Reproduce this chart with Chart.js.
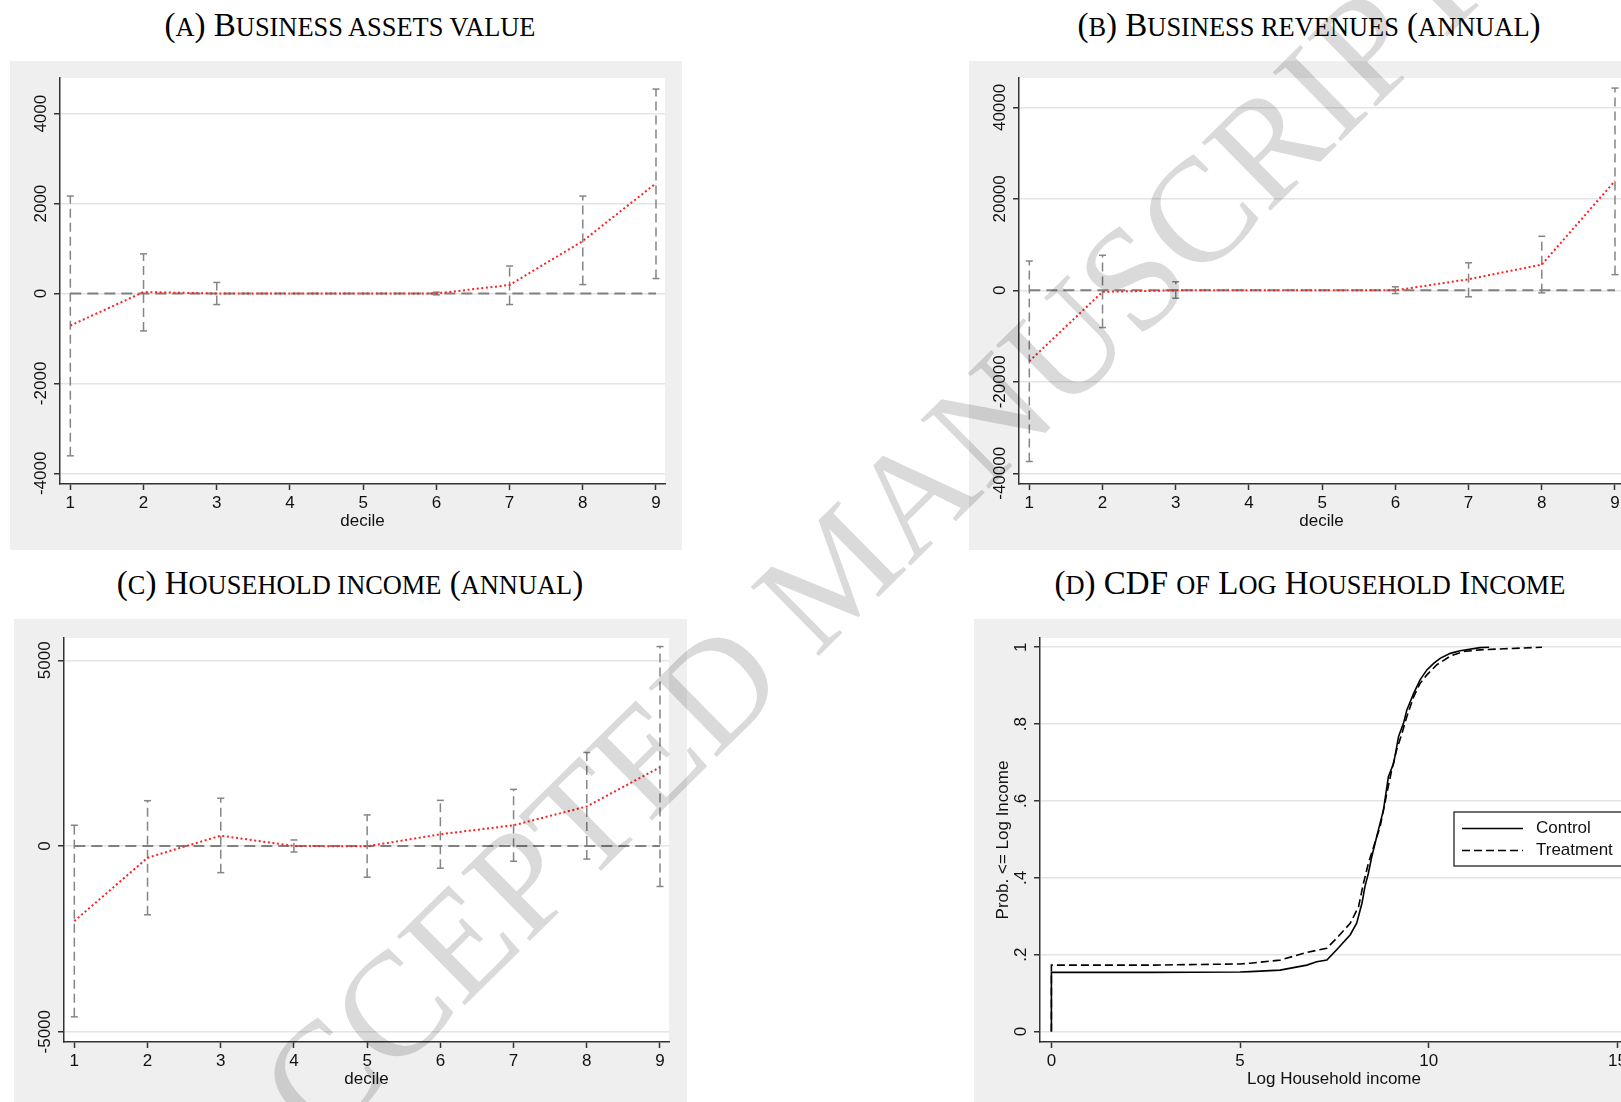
<!DOCTYPE html>
<html>
<head>
<meta charset="utf-8">
<script src="https://cdn.jsdelivr.net/npm/chart.js@4.4.0/dist/chart.umd.min.js"></script>
<style>
  html, body { margin: 0; padding: 0; background: #fff; width: 1621px; height: 1102px; overflow: hidden; }
  body { position: relative; }
  canvas.panel { position: absolute; background: #efefef; }
  .title { position: absolute; transform: translateX(-50%); font-family: "Liberation Serif", serif; font-size: 33px;
           line-height: 1; white-space: nowrap; color: #000; }
  .sc { font-size: 0.8em; }
  #wm { position: absolute; left: 0; top: 0; pointer-events: none; mix-blend-mode: multiply; }
</style>
</head>
<body>
<div class="title" style="left:350px; top:9px">(<span class="sc">A</span>) B<span class="sc">USINESS ASSETS VALUE</span></div>
<div class="title" style="left:1309px; top:9px">(<span class="sc">B</span>) B<span class="sc">USINESS REVENUES</span> (<span class="sc">ANNUAL</span>)</div>
<div class="title" style="left:350px; top:567px">(<span class="sc">C</span>) H<span class="sc">OUSEHOLD INCOME</span> (<span class="sc">ANNUAL</span>)</div>
<div class="title" style="left:1310px; top:567px">(<span class="sc">D</span>) CDF <span class="sc">OF</span> L<span class="sc">OG</span> H<span class="sc">OUSEHOLD</span> I<span class="sc">NCOME</span></div>

<canvas id="chartA" class="panel" width="672" height="489" style="left:10px; top:61px"></canvas>
<canvas id="chartB" class="panel" width="672" height="489" style="left:969px; top:61px"></canvas>
<canvas id="chartC" class="panel" width="673" height="500" style="left:14px; top:619px"></canvas>
<canvas id="chartD" class="panel" width="672" height="500" style="left:974px; top:619px"></canvas>

<svg id="wm" width="1621" height="1102">
  <text x="245" y="1222" transform="rotate(-44.6 245 1222)" font-family="Liberation Serif" font-size="148" fill="#dadada">ACCEPTED MANUSCRIPT</text>
</svg>

<script>
// deciles on the x axis of panels A-C
const deciles = [1, 2, 3, 4, 5, 6, 7, 8, 9];

// (A) business assets value: estimate and 95% CI
const assetsEst = [-714, 32, 0, 0, 0, 0, 190, 1167, 2452];
const assetsLo  = [-3611, -833, -246, null, null, -30, -246, 198, 333];
const assetsHi  = [2167, 881, 246, null, null, 30, 611, 2167, 4548];
const assetsTicks = [-4000, -2000, 0, 2000, 4000];

// (B) business revenues
const revenueEst = [-15500, -313, 0, 0, 0, 0, 2430, 5640, 23950];
const revenueLo  = [-37420, -8140, -1720, null, null, -700, -1410, -550, 3440];
const revenueHi  = [6420, 7670, 1880, null, null, 780, 6030, 11820, 44230];
const revenueTicks = [-40000, -20000, 0, 20000, 40000];

// (C) household income
const incomeEst = [-2020, -317, 279, 0, -10, 315, 558, 1065, 2121];
const incomeLo  = [-4600, -1853, -717, -162, -840, -598, -411, -352, -1090];
const incomeHi  = [559, 1220, 1285, 162, 836, 1229, 1524, 2517, 5370];
const incomeTicks = [-5000, 0, 5000];

// (D) CDF of log household income
const controlX = [0, 0, 2.6, 5.0, 5.27, 6.06, 6.77, 7.03, 7.30, 7.56, 7.92, 8.09, 8.23, 8.31, 8.40, 8.49, 8.62,
                  8.80, 8.93, 9.07, 9.20, 9.33, 9.42, 9.60, 9.77, 9.95, 10.13, 10.30, 10.57, 10.83, 11.36, 11.6];
const controlY = [0, 0.154, 0.154, 0.155, 0.156, 0.160, 0.173, 0.182, 0.186, 0.213, 0.252, 0.282, 0.334, 0.378, 0.412, 0.455, 0.507,
                  0.577, 0.663, 0.698, 0.768, 0.802, 0.837, 0.880, 0.915, 0.941, 0.958, 0.971, 0.984, 0.991, 0.999, 1.0];
const treatX = [0, 0, 2.6, 5.0, 5.27, 6.06, 6.77, 7.30, 7.56, 7.92, 8.14, 8.27, 8.40, 8.54, 8.71, 8.89, 9.02,
                9.15, 9.29, 9.42, 9.60, 9.77, 9.95, 10.21, 10.57, 10.92, 11.36, 12.0, 13.0];
const treatY = [0, 0.173, 0.173, 0.176, 0.178, 0.186, 0.206, 0.217, 0.243, 0.282, 0.325, 0.386, 0.438, 0.481, 0.533, 0.620, 0.681,
                0.733, 0.776, 0.820, 0.871, 0.906, 0.928, 0.954, 0.977, 0.989, 0.993, 0.996, 1.0];
const cdfXTicks = [0, 5, 10, 15];
const cdfYTicks = [0, 0.2, 0.4, 0.6, 0.8, 1];
const cdfYLabels = ['0', '.2', '.4', '.6', '.8', '1'];

Chart.defaults.font.family = '"Liberation Sans", Arial, sans-serif';
Chart.defaults.font.size = 17;
Chart.defaults.color = '#111';

const AXIS = '#333';

// white plot region + vertical (rotated) y tick labels, Stata style
const stataFrame = {
  id: 'stataFrame',
  beforeDraw(chart) {
    const { ctx, chartArea: a } = chart;
    ctx.save();
    ctx.fillStyle = '#fff';
    ctx.fillRect(a.left, a.top, a.right - a.left, a.bottom - a.top);
    ctx.restore();
  },
  afterDraw(chart) {
    const { ctx, chartArea: a } = chart;
    const y = chart.scales.y;
    ctx.save();
    ctx.font = '17px "Liberation Sans", Arial, sans-serif';
    ctx.fillStyle = '#111';
    ctx.textAlign = 'center';
    ctx.textBaseline = 'middle';
    y.ticks.forEach(t => {
      ctx.save();
      ctx.translate(a.left - 19, y.getPixelForValue(t.value));
      ctx.rotate(-Math.PI / 2);
      ctx.fillText(t.label, 0, 0);
      ctx.restore();
    });
    ctx.restore();
  }
};

function xAxis(min, max, ticks, title) {
  return {
    type: 'linear', min: min, max: max,
    afterBuildTicks: s => { s.ticks = ticks.map(v => ({ value: v })); },
    afterFit: s => { s.height = 48; },
    grid: { drawOnChartArea: false, tickLength: 6, tickColor: AXIS, tickWidth: 1.5 },
    border: { color: AXIS, width: 1.5 },
    ticks: { padding: 3, maxRotation: 0, autoSkip: false, callback: v => String(v) },
    title: { display: true, text: title, padding: 0 }
  };
}

function yAxis(min, max, ticks, labels, width) {
  return {
    type: 'linear', min: min, max: max,
    afterBuildTicks: s => { s.ticks = ticks.map(v => ({ value: v })); },
    afterFit: s => { s.width = width; },
    grid: { color: '#e4e4e4', lineWidth: 1.5, tickLength: 6, tickColor: AXIS, tickWidth: 1.5 },
    border: { color: AXIS, width: 1.5 },
    ticks: { display: false, callback: (v, i) => labels[i] }
  };
}

function decileChart(id, est, lo, hi, yMin, yMax, yTicks, pad) {
  const ciData = deciles.flatMap((d, i) => lo[i] === null ? [] :
    [{ x: d, y: lo[i] }, { x: d, y: hi[i] }, { x: d, y: null }]);
  return new Chart(document.getElementById(id), {
    type: 'line',
    data: {
      datasets: [
        { data: deciles.map((d, i) => ({ x: d, y: est[i] })), borderColor: '#ff2020', borderWidth: 2,
          borderDash: [2, 2.6], pointRadius: 0, order: 0 },
        { data: [{ x: deciles[0], y: 0 }, { x: deciles[deciles.length - 1], y: 0 }], borderColor: '#808080',
          borderWidth: 2, borderDash: [11, 6], pointRadius: 0, order: 1 },
        { data: ciData, borderColor: '#858585', borderWidth: 1.5, borderDash: [9, 5], spanGaps: false,
          pointStyle: 'line', pointRadius: 3.5, pointBorderColor: '#858585', pointBorderWidth: 1.5, order: 2 }
      ]
    },
    options: {
      responsive: false, animation: false, events: [],
      layout: { padding: pad },
      plugins: { legend: { display: false }, tooltip: { enabled: false } },
      scales: {
        x: xAxis(0.859, 9.123, deciles, 'decile'),
        y: yAxis(yMin, yMax, yTicks, yTicks.map(String), 50)
      }
    },
    plugins: [stataFrame]
  });
}

decileChart('chartA', assetsEst, assetsLo, assetsHi, -4238, 4794, assetsTicks,
  { left: 0, top: 17, right: 17, bottom: 18 });
decileChart('chartB', revenueEst, revenueLo, revenueHi, -42341, 46433, revenueTicks,
  { left: 0, top: 17, right: 17, bottom: 18 });
decileChart('chartC', incomeEst, incomeLo, incomeHi, -5277, 5600, incomeTicks,
  { left: 0, top: 19, right: 18, bottom: 29 });

// legend box drawn inside the plot, from the dataset labels and styles
const cdfLegend = {
  id: 'cdfLegend',
  afterDraw(chart) {
    const { ctx, chartArea: a } = chart;
    const left = a.left + 414, top = a.top + 174;
    ctx.save();
    ctx.fillStyle = '#fff';
    ctx.fillRect(left, top, 300, 54);
    ctx.strokeStyle = '#111';
    ctx.lineWidth = 1.2;
    ctx.strokeRect(left, top, 300, 54);
    chart.data.datasets.forEach((ds, i) => {
      const y = top + 16.5 + i * 22;
      ctx.beginPath();
      ctx.setLineDash(ds.borderDash || []);
      ctx.lineWidth = ds.borderWidth;
      ctx.strokeStyle = ds.borderColor;
      ctx.moveTo(left + 8, y);
      ctx.lineTo(left + 69, y);
      ctx.stroke();
      ctx.setLineDash([]);
      ctx.fillStyle = '#111';
      ctx.font = '17px "Liberation Sans", Arial, sans-serif';
      ctx.textBaseline = 'middle';
      ctx.fillText(ds.label, left + 82, y);
    });
    ctx.restore();
  }
};

const dYAxis = yAxis(-0.027, 1.024, cdfYTicks, cdfYLabels, 66);
dYAxis.title = { display: true, text: 'Prob. <= Log Income', padding: { top: 19 } };

new Chart(document.getElementById('chartD'), {
  type: 'line',
  data: {
    datasets: [
      { label: 'Control', data: controlX.map((x, i) => ({ x: x, y: controlY[i] })), borderColor: '#000',
        borderWidth: 1.6, pointRadius: 0 },
      { label: 'Treatment', data: treatX.map((x, i) => ({ x: x, y: treatY[i] })), borderColor: '#000',
        borderWidth: 1.6, borderDash: [8, 4], pointRadius: 0 }
    ]
  },
  options: {
    responsive: false, animation: false, events: [],
    layout: { padding: { left: 0, top: 19, right: 18, bottom: 29 } },
    plugins: { legend: { display: false }, tooltip: { enabled: false } },
    scales: {
      x: xAxis(-0.302, 15.28, cdfXTicks, 'Log Household income'),
      y: dYAxis
    }
  },
  plugins: [stataFrame, cdfLegend]
});
</script>
</body>
</html>
